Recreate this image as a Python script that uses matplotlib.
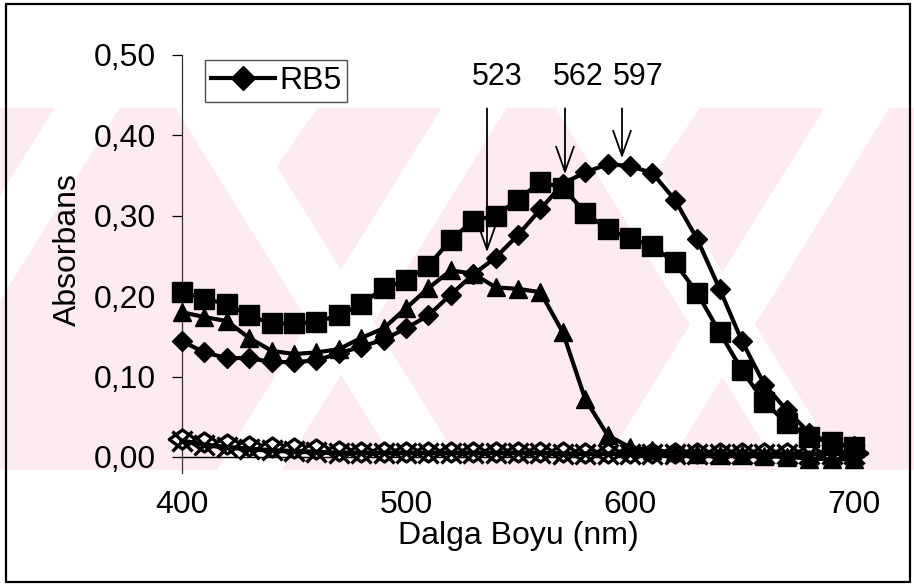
import matplotlib
matplotlib.use("Agg")
import matplotlib.pyplot as plt
from matplotlib.patches import Rectangle, Polygon
from matplotlib.lines import Line2D
from matplotlib.path import Path

plt.rcParams['font.family'] = ['Liberation Sans', 'DejaVu Sans']

# ---------------- data ----------------
wavelength = list(range(400, 701, 10))
rb5 = [0.144, 0.130, 0.123, 0.123, 0.118, 0.118, 0.120, 0.129, 0.137, 0.146,
       0.160, 0.176, 0.202, 0.227, 0.248, 0.276, 0.308, 0.340, 0.354, 0.364,
       0.362, 0.353, 0.320, 0.271, 0.209, 0.144, 0.090, 0.058, 0.030, 0.016, 0.013]
squares = [0.205, 0.197, 0.190, 0.176, 0.166, 0.166, 0.168, 0.176, 0.190, 0.210,
           0.220, 0.238, 0.270, 0.294, 0.300, 0.320, 0.342, 0.335, 0.304, 0.283,
           0.272, 0.262, 0.242, 0.204, 0.155, 0.108, 0.068, 0.042, 0.025, 0.018, 0.012]
triangles = [0.180, 0.174, 0.169, 0.148, 0.132, 0.128, 0.130, 0.134, 0.148, 0.160,
             0.185, 0.210, 0.232, 0.228, 0.211, 0.209, 0.205, 0.155, 0.072, 0.027,
             0.012, 0.008, 0.006, 0.004, 0.003, 0.002, 0.001, 0.000, -0.002, -0.003, -0.003]
xmark = [0.020, 0.015, 0.012, 0.010, 0.008, 0.007, 0.006, 0.005, 0.005, 0.005,
         0.005, 0.005, 0.005, 0.005, 0.005, 0.005, 0.005, 0.004, 0.004, 0.004,
         0.004, 0.004, 0.004, 0.004, 0.004, 0.004, 0.004, 0.004, 0.004, 0.004, 0.004]
open_diam = [0.022, 0.019, 0.016, 0.014, 0.012, 0.011, 0.010, 0.007, 0.006, 0.006,
             0.006, 0.006, 0.006, 0.006, 0.006, 0.006, 0.006, 0.006, 0.005, 0.005,
             0.005, 0.005, 0.005, 0.005, 0.005, 0.005, 0.005, 0.005, 0.005, 0.005, 0.005]

peak_labels = ["523", "562", "597"]
yticks = [0.0, 0.1, 0.2, 0.3, 0.4, 0.5]
ytick_labels = ["0,00", "0,10", "0,20", "0,30", "0,40", "0,50"]
xticks = [400, 500, 600, 700]
xtick_labels = ["400", "500", "600", "700"]

W, H = 914, 585
FS = 23
fig = plt.figure(figsize=(W / 100, H / 100), dpi=100)

# ---------------- watermark (pink X pattern) ----------------
def px(x, y):
    return (x / W, 1 - y / H)

pink = '#fdebef'
band_top, band_bot = 108, 470
band = Rectangle(px(0, band_bot), 1, (band_bot - band_top) / H,
                 transform=fig.transFigure, facecolor=pink, edgecolor='none', zorder=-3)
fig.patches.append(band)
hgt = band_bot - band_top
sl = 0.62 * hgt
gaps = [
    [(190, band_top), (317, band_top), (252, band_top + 95)],
    [(590, band_top), (700, band_top), (645, band_top + 80)],
]
stripes = []
for x0 in [-170, 217, 600, 985]:
    stripes.append([(x0, band_bot), (x0 + 65, band_bot),
                    (x0 + 65 + sl, band_top), (x0 + sl, band_top)])
for x0 in [400, 780, 1160]:
    stripes.append([(x0, band_bot), (x0 + 65, band_bot),
                    (x0 + 65 - sl, band_top), (x0 - sl, band_top)])
for poly in gaps + stripes:
    p = Polygon([px(a, b) for a, b in poly], closed=True, transform=fig.transFigure,
                facecolor='white', edgecolor='none', zorder=-2)
    fig.patches.append(p)

# outer frame
fig.patches.append(Rectangle(px(6, 582), (910 - 6) / W, (582 - 4) / H,
                             transform=fig.transFigure, fill=False,
                             edgecolor='black', linewidth=1.6, zorder=5))

# ---------------- axes ----------------
ax = fig.add_axes([182 / W, 1 - 473 / H, (854 - 182) / W, (473 - 55) / H])
ax.patch.set_alpha(0)
ax.set_xlim(400, 700)
ax.set_ylim(-0.02, 0.5)

lw = 3.0
diam_open = Path([(-1, 0), (0, 0.72), (1, 0), (0, -0.72), (-1, 0)],
                 [Path.MOVETO, Path.LINETO, Path.LINETO, Path.LINETO, Path.CLOSEPOLY])

ax.axhline(0, color='black', linewidth=1.0, zorder=2)

ax.plot(wavelength, open_diam, color='black', linewidth=lw, marker=diam_open,
        markersize=19, markerfacecolor='white', markeredgecolor='black',
        markeredgewidth=2.4, clip_on=False, zorder=3)
ax.plot(wavelength, xmark, color='black', linewidth=lw + 0.5, marker='x',
        markersize=14, markeredgewidth=2.4, clip_on=False, zorder=4)
ax.plot(wavelength, triangles, color='black', linewidth=lw, marker='^',
        markersize=13.5, markerfacecolor='black', clip_on=False, zorder=5)
ax.plot(wavelength, squares, color='black', linewidth=lw, marker='s',
        markersize=15, markerfacecolor='black', clip_on=False, zorder=6)
ax.plot(wavelength, rb5, color='black', linewidth=lw, marker='D',
        markersize=10, markerfacecolor='black', clip_on=False, zorder=7,
        label='RB5')

# spines / ticks
for s in ['top', 'right', 'bottom']:
    ax.spines[s].set_visible(False)
ax.spines['left'].set_linewidth(0.9)
ax.spines['left'].set_color('#333333')
ax.set_yticks(yticks)
ax.set_yticklabels(ytick_labels, fontsize=FS)
ax.set_xticks(xticks)
ax.set_xticklabels(xtick_labels, fontsize=FS)
ax.tick_params(axis='y', direction='out', length=7, width=0.9, pad=12)
ax.tick_params(axis='x', length=0, pad=12)
ax.set_xlabel('Dalga Boyu (nm)', fontsize=FS, labelpad=1)
ax.set_ylabel('Absorbans', fontsize=FS)
ax.yaxis.set_label_coords(-0.148, (473 - 250) / 418)

# legend
h = Line2D([], [], color='black', linewidth=lw, marker='D', markersize=12,
           markerfacecolor='black')
leg = ax.legend([h], ['RB5'], loc='upper left',
                bbox_to_anchor=((205 - 182) / 672, (473 - 60) / 418),
                fontsize=FS, frameon=True, fancybox=False, borderaxespad=0,
                borderpad=0.18, handlelength=2.0, handletextpad=0.15)
leg.get_frame().set_edgecolor('#222222')
leg.get_frame().set_linewidth(1.0)
leg.get_frame().set_facecolor('white')
leg.set_zorder(10)

# peak annotations
def d(xp, yp):
    return (400 + (xp - 182) / 2.24, (457 - yp) / 805)

annots = [
    (peak_labels[0], (497, 77), (487, 108), (487, 252)),
    (peak_labels[1], (578, 77), (565, 108), (565, 174)),
    (peak_labels[2], (638, 77), (622, 108), (622, 158)),
]
for lab, tpos, start, tip in annots:
    ax.text(*d(*tpos), lab, fontsize=22, ha='center', va='center', zorder=11)
    ax.annotate('', xy=d(*tip), xytext=d(*start), xycoords='data',
                arrowprops=dict(arrowstyle='->,head_length=0.9,head_width=0.32',
                                mutation_scale=20, color='black', linewidth=1.3,
                                shrinkA=0, shrinkB=0), zorder=11)

fig.savefig('out.png', dpi=100)
